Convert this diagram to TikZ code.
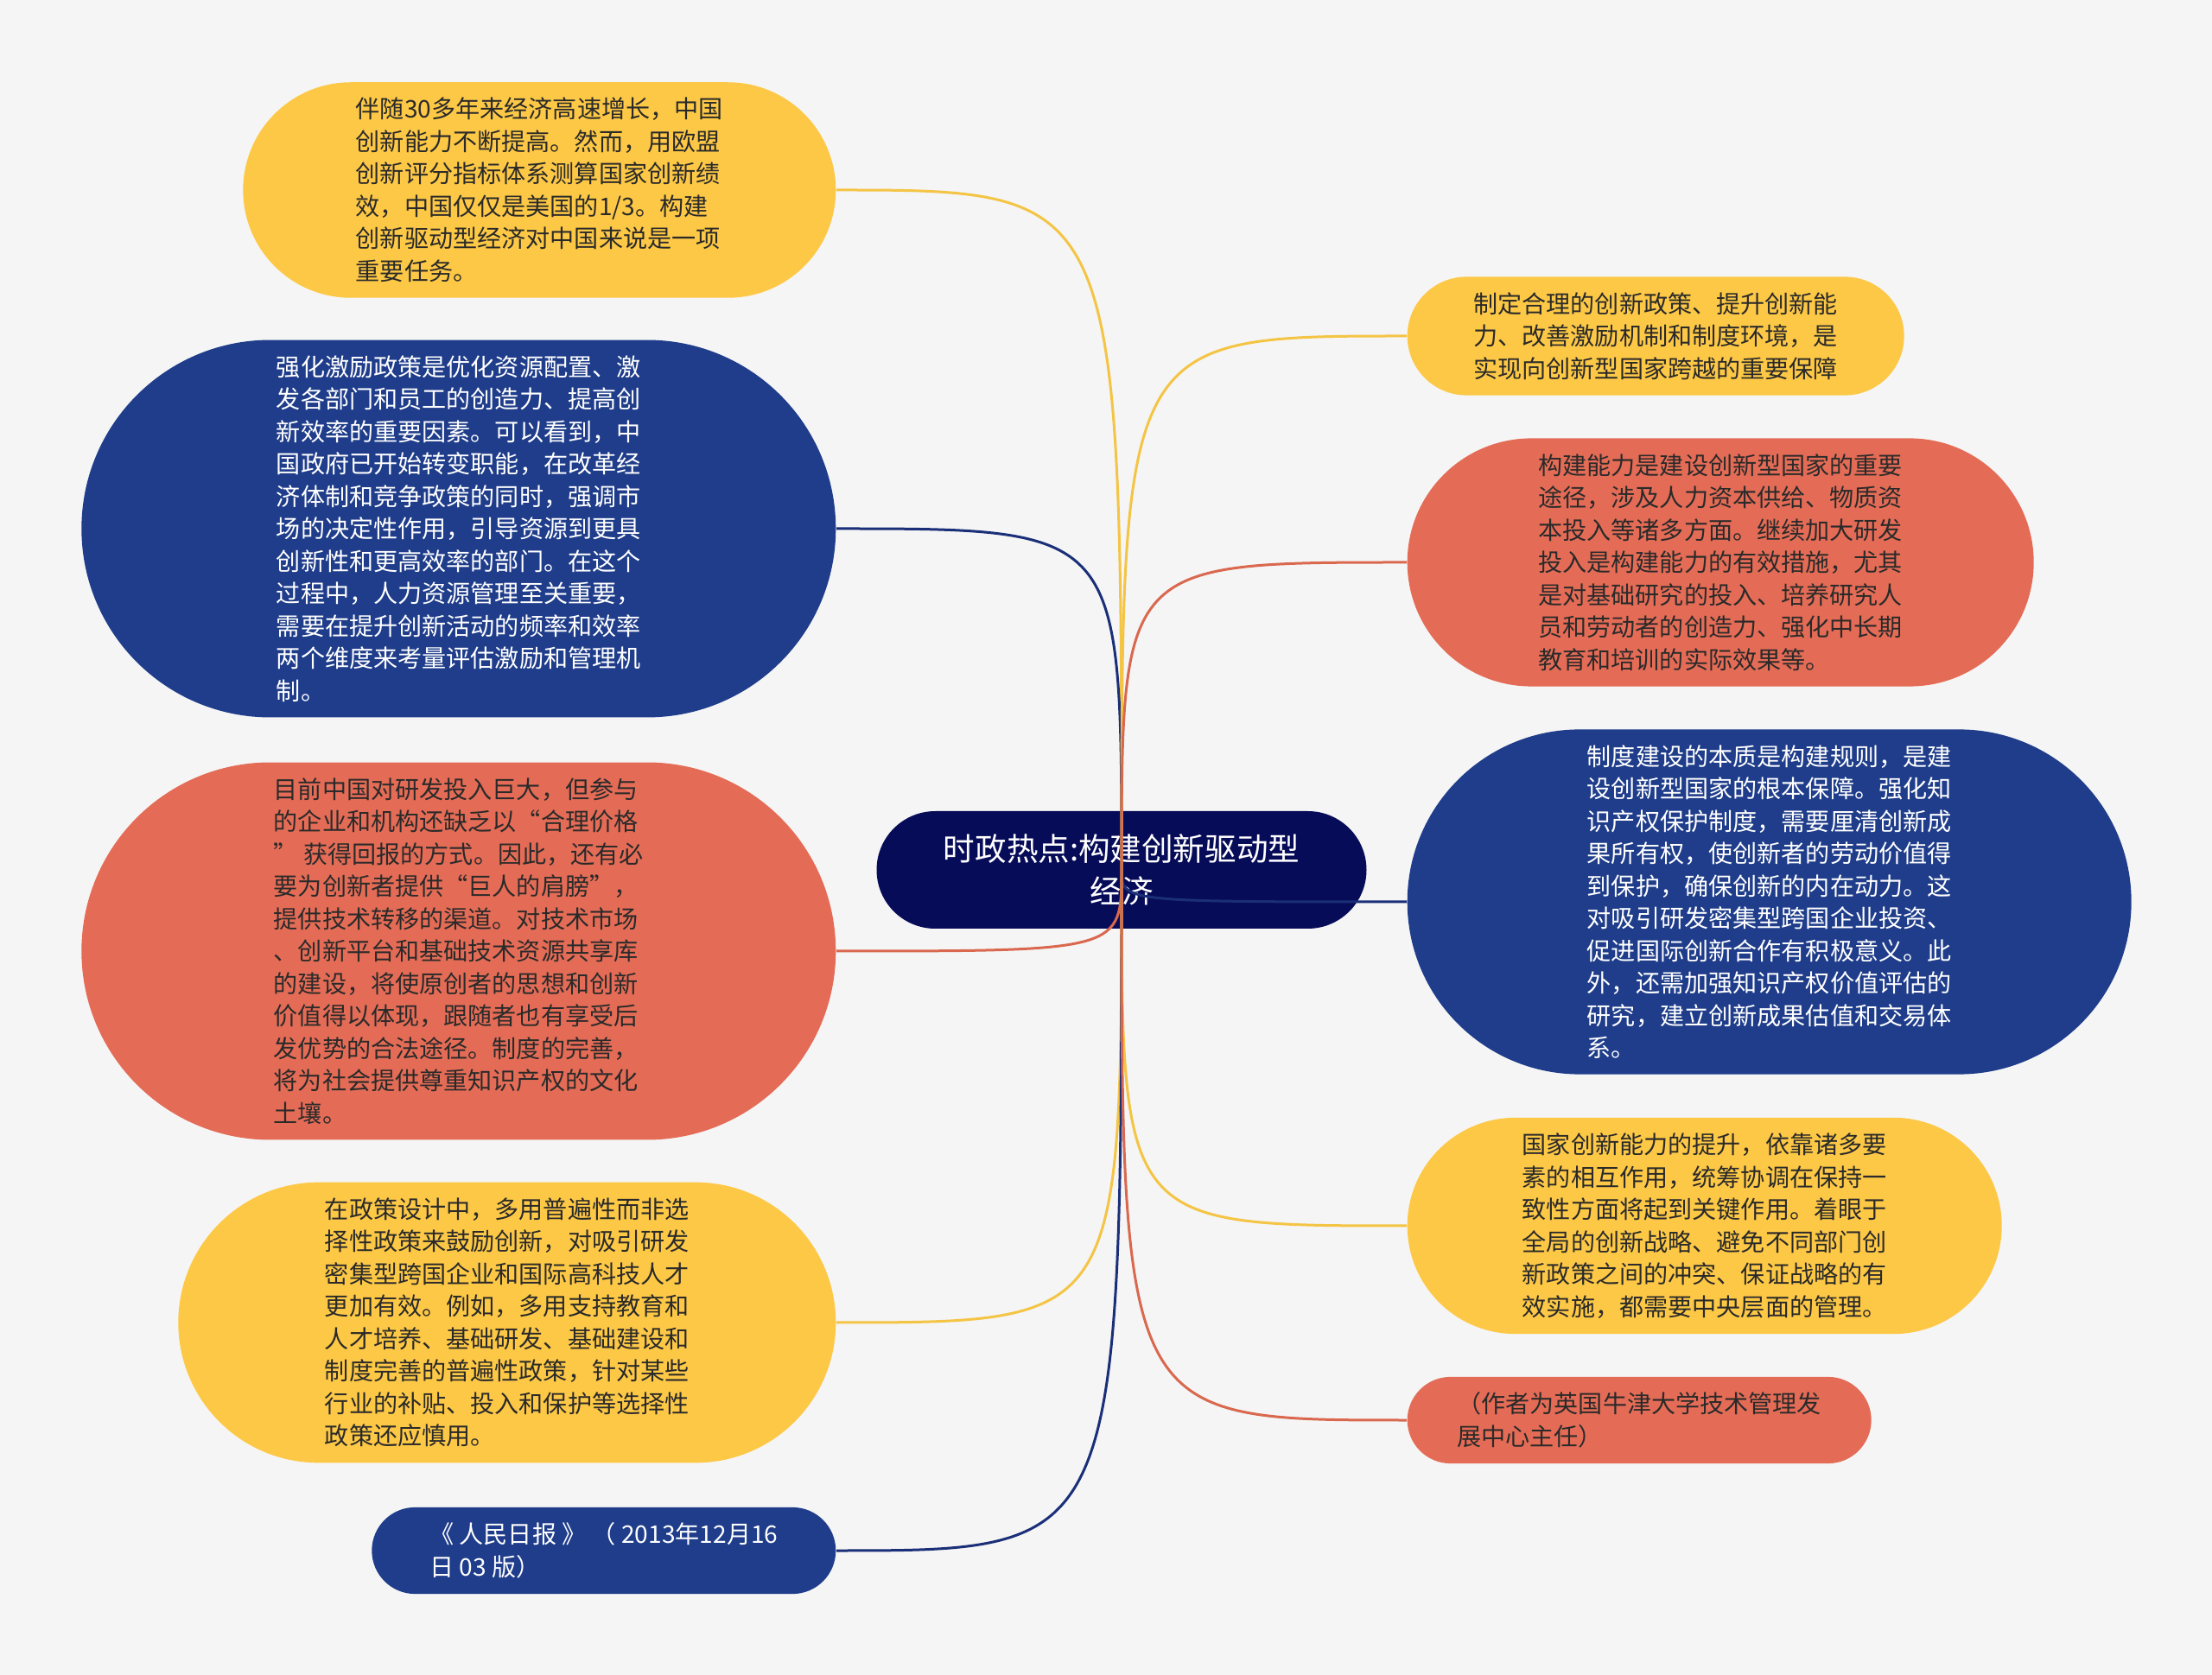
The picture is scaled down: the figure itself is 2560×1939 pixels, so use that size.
\documentclass[tikz,border=0pt]{standalone}
\usepackage{fontspec}
\setmainfont{Noto Sans CJK SC}
\usetikzlibrary{shapes.misc}

\definecolor{paper}{HTML}{F5F5F5}
\definecolor{sunFill}{HTML}{FDC846}
\definecolor{coralFill}{HTML}{E46C56}
\definecolor{navyFill}{HTML}{1F3D8A}
\definecolor{hubFill}{HTML}{070C58}
\definecolor{inkDark}{HTML}{2A2A2A}
\definecolor{sunLine}{HTML}{F4C444}
\definecolor{coralLine}{HTML}{D9684F}
\definecolor{navyLine}{HTML}{1A2F78}

\begin{document}
\begin{tikzpicture}[
  x=0.1mm, y=-0.1mm,
  topic/.style  = {rounded rectangle, inner xsep=0.5mm, inner ysep=1.8mm, align=left,
                   font=\fontsize{8pt}{10.67pt}\selectfont},
  sunbox/.style   = {topic, fill=sunFill, text=inkDark},
  coralbox/.style = {topic, fill=coralFill, text=inkDark},
  navybox/.style  = {topic, fill=navyFill, text=white},
  hubbox/.style   = {rounded rectangle, fill=hubFill, text=white, align=center,
                     inner xsep=0.75mm, minimum height=13.6mm, minimum width=58.2mm,
                     font=\fontsize{10.4pt}{13.9pt}\selectfont},
  link/.style   = {line width=0.3mm},
]
  \fill[paper] (0,0) rectangle (2560,1939);
  \useasboundingbox (0,0) rectangle (2560,1939);

  % centre topic
  \node[hubbox] (hub) at (1298,1007) {时政热点:构建创新驱动型\\经济};

  % left branches
  \node[sunbox, anchor=east, minimum width=69.6mm] (growth) at (968,220)
    {伴随30多年来经济高速增长，中国\\创新能力不断提高。然而，用欧盟\\创新评分指标体系测算国家创新绩\\效，中国仅仅是美国的1/3。构建\\创新驱动型经济对中国来说是一项\\重要任务。};
  \node[navybox, anchor=east, minimum width=88.3mm] (incent) at (968,612)
    {强化激励政策是优化资源配置、激\\发各部门和员工的创造力、提高创\\新效率的重要因素。可以看到，中\\国政府已开始转变职能，在改革经\\济体制和竞争政策的同时，强调市\\场的决定性作用，引导资源到更具\\创新性和更高效率的部门。在这个\\过程中，人力资源管理至关重要，\\需要在提升创新活动的频率和效率\\两个维度来考量评估激励和管理机\\制。};
  \node[coralbox, anchor=east, minimum width=88.3mm] (price) at (968,1101)
    {目前中国对研发投入巨大，但参与\\的企业和机构还缺乏以“合理价格\\” 获得回报的方式。因此，还有必\\要为创新者提供“巨人的肩膀”，\\提供技术转移的渠道。对技术市场\\、创新平台和基础技术资源共享库\\的建设，将使原创者的思想和创新\\价值得以体现，跟随者也有享受后\\发优势的合法途径。制度的完善，\\将为社会提供尊重知识产权的文化\\土壤。};
  \node[sunbox, anchor=east, minimum width=77.1mm] (universal) at (968,1531)
    {在政策设计中，多用普遍性而非选\\择性政策来鼓励创新，对吸引研发\\密集型跨国企业和国际高科技人才\\更加有效。例如，多用支持教育和\\人才培养、基础研发、基础建设和\\制度完善的普遍性政策，针对某些\\行业的补贴、投入和保护等选择性\\政策还应慎用。};
  \node[navybox, anchor=east, minimum width=54.7mm] (source) at (968,1795)
    {《 人民日报 》 （ 2013年12月16\\日 03 版）};

  % right branches
  \node[sunbox, anchor=west, minimum width=58.5mm] (goal) at (1628,389)
    {制定合理的创新政策、提升创新能\\力、改善激励机制和制度环境，是\\实现向创新型国家跨越的重要保障};
  \node[coralbox, anchor=west, minimum width=73.5mm] (capacity) at (1628,651)
    {构建能力是建设创新型国家的重要\\途径，涉及人力资本供给、物质资\\本投入等诸多方面。继续加大研发\\投入是构建能力的有效措施，尤其\\是对基础研究的投入、培养研究人\\员和劳动者的创造力、强化中长期\\教育和培训的实际效果等。};
  \node[navybox, anchor=west, minimum width=84.8mm] (system) at (1628,1044)
    {制度建设的本质是构建规则，是建\\设创新型国家的根本保障。强化知\\识产权保护制度，需要厘清创新成\\果所有权，使创新者的劳动价值得\\到保护，确保创新的内在动力。这\\对吸引研发密集型跨国企业投资、\\促进国际创新合作有积极意义。此\\外，还需加强知识产权价值评估的\\研究，建立创新成果估值和交易体\\系。};
  \node[sunbox, anchor=west, minimum width=69.8mm] (coord) at (1628,1419)
    {国家创新能力的提升，依靠诸多要\\素的相互作用，统筹协调在保持一\\致性方面将起到关键作用。着眼于\\全局的创新战略、避免不同部门创\\新政策之间的冲突、保证战略的有\\效实施，都需要中央层面的管理。};
  \node[coralbox, anchor=west, minimum width=54.7mm] (author) at (1628,1644)
    {（作者为英国牛津大学技术管理发\\展中心主任）};

  % connectors
  \draw[link, sunLine]   (hub.center) .. controls (hub.center |- growth.east) .. (growth.east);
  \draw[link, navyLine]  (hub.center) .. controls (hub.center |- incent.east) .. (incent.east);
  \draw[link, coralLine] (hub.center) .. controls (hub.center |- price.east) .. (price.east);
  \draw[link, sunLine]   (hub.center) .. controls (hub.center |- universal.east) .. (universal.east);
  \draw[link, navyLine]  (hub.center) .. controls (hub.center |- source.east) .. (source.east);
  \draw[link, sunLine]   (hub.center) .. controls (hub.center |- goal.west) .. (goal.west);
  \draw[link, coralLine] (hub.center) .. controls (hub.center |- capacity.west) .. (capacity.west);
  \draw[link, navyLine]  (hub.center) .. controls (hub.center |- system.west) .. (system.west);
  \draw[link, sunLine]   (hub.center) .. controls (hub.center |- coord.west) .. (coord.west);
  \draw[link, coralLine] (hub.center) .. controls (hub.center |- author.west) .. (author.west);
\end{tikzpicture}
\end{document}
